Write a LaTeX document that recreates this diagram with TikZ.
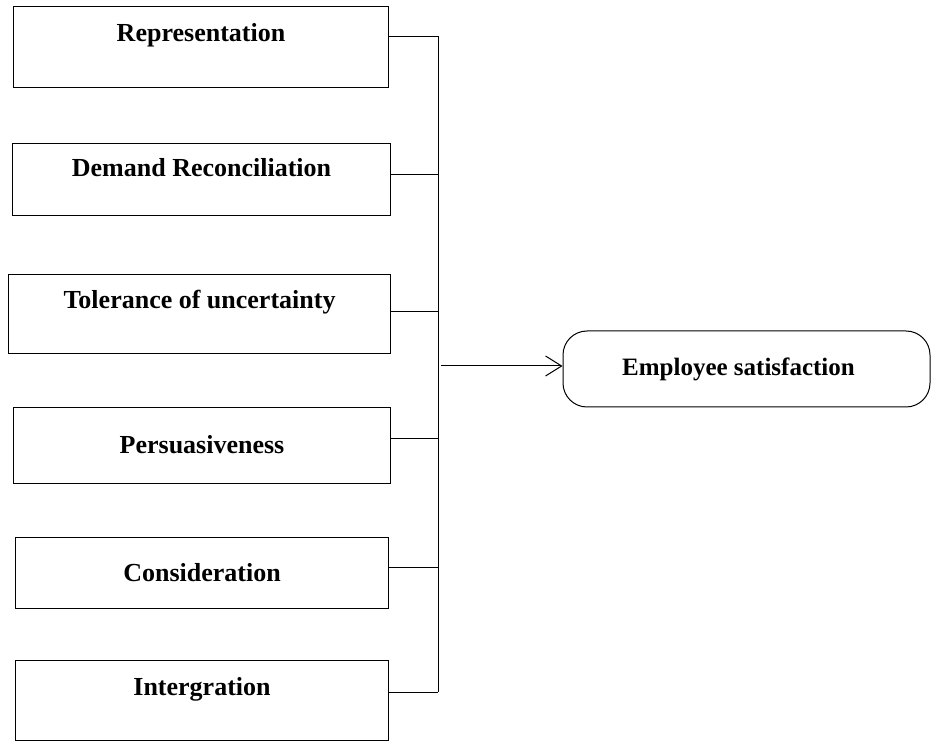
\documentclass[tikz,border=0pt]{standalone}
\usepackage{fontspec}
\setmainfont{Liberation Serif}
\usepackage{tikz}
\usetikzlibrary{arrows.meta}

\begin{document}
\begin{tikzpicture}[x=0.5pt,y=-0.5pt,line width=0.5pt]
\tikzset{factor/.style={rectangle,draw,inner sep=0pt,anchor=north west,
  font=\fontsize{13}{15}\selectfont\bfseries}}
\tikzset{outcome/.style={rectangle,draw,rounded corners=12pt,inner sep=0pt,
  minimum width=183.5pt,minimum height=38pt,
  font=\fontsize{12.5}{15}\selectfont\bfseries}}
\useasboundingbox (0,0) rectangle (931,742);
% left column
\node[factor,minimum width=187.5pt,text height=17.5pt,text depth=23pt] (rep) at (13,6) {Representation};
\node[factor,minimum width=189pt,text height=16.5pt,text depth=19.5pt] (dem) at (12,143) {Demand Reconciliation};
\node[factor,minimum width=191pt,text height=17pt,text depth=22.5pt] (tol) at (8,274) {Tolerance of uncertainty};
\node[factor,minimum width=188.5pt,text height=23pt,text depth=15pt] (per) at (13,407) {Persuasiveness};
\node[factor,minimum width=186.5pt,text height=22pt,text depth=13.5pt] (con) at (15,537) {Consideration};
\node[factor,minimum width=186.5pt,text height=17.5pt,text depth=22.5pt] (int) at (15,660) {Intergration};
% right
\node[outcome] (sat) at (746.5,369) {\hspace*{-8pt}Employee satisfaction};
% bus
\coordinate (bustop) at (438,36);
\coordinate (busbot) at (438,692);
\coordinate (tap) at (441,366);
\draw (bustop) -- (busbot);
\draw ([yshift=5.25pt]rep.east) -- ([yshift=5.25pt]rep.east -| bustop);
\draw ([yshift=2.5pt]dem.east) -- ([yshift=2.5pt]dem.east -| bustop);
\draw ([yshift=1.25pt]tol.east) -- ([yshift=1.25pt]tol.east -| bustop);
\draw ([yshift=3.5pt]per.east) -- ([yshift=3.5pt]per.east -| bustop);
\draw ([yshift=2.75pt]con.east) -- ([yshift=2.75pt]con.east -| bustop);
\draw ([yshift=4pt]int.east) -- ([yshift=4pt]int.east -| bustop);
\draw[-{Straight Barb[length=8pt,width=10pt]}] (tap) -- (tap -| sat.west);
\end{tikzpicture}
\end{document}
